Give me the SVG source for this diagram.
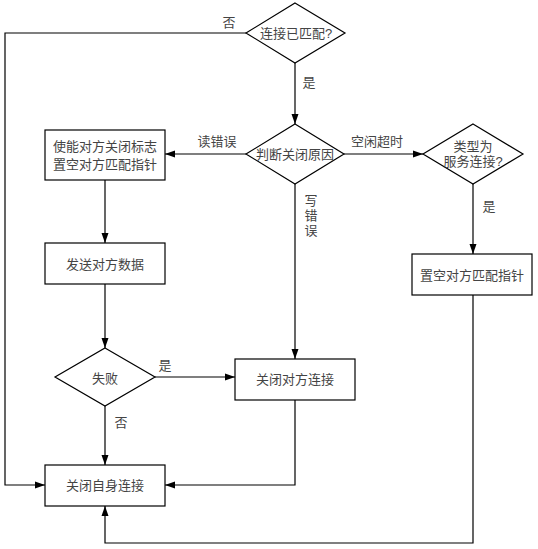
<svg xmlns="http://www.w3.org/2000/svg" width="538" height="549" viewBox="0 0 538 549">
<style>
.shape{fill:#fff;stroke:#000;stroke-width:1.2}
.line{fill:none;stroke:#000;stroke-width:1.2}
text{font-family:"Liberation Sans","Noto Sans CJK SC",sans-serif;font-size:13px;fill:#444;text-anchor:middle;dominant-baseline:central}
</style>
<defs>
<marker id="arr" markerUnits="userSpaceOnUse" markerWidth="10" markerHeight="8" refX="10" refY="4" orient="auto">
<path d="M0,0.5 L10,4 L0,7.5 z" fill="#000"/>
</marker>
</defs>
<rect width="538" height="549" fill="#fff"/>
<g id="connectors">
<path class="line" d="M295,63 V124" marker-end="url(#arr)"/>
<path class="line" d="M246,33 H5 V485 H45" marker-end="url(#arr)"/>
<path class="line" d="M246,154 H165" marker-end="url(#arr)"/>
<path class="line" d="M344,154 H423" marker-end="url(#arr)"/>
<path class="line" d="M295,184 V359" marker-end="url(#arr)"/>
<path class="line" d="M473,184 V254" marker-end="url(#arr)"/>
<path class="line" d="M105,180 V243" marker-end="url(#arr)"/>
<path class="line" d="M105,284 V348" marker-end="url(#arr)"/>
<path class="line" d="M155,377 H235" marker-end="url(#arr)"/>
<path class="line" d="M105,406 V465" marker-end="url(#arr)"/>
<path class="line" d="M295,400 V485 H165" marker-end="url(#arr)"/>
<path class="line" d="M473,295 V543 H105 V506" marker-end="url(#arr)"/>
<text x="229" y="22">否</text>
<text x="309" y="82">是</text>
<text x="217" y="141">读错误</text>
<text x="377" y="141">空闲超时</text>
<text x="311" y="200">写</text>
<text x="311" y="215">错</text>
<text x="311" y="230">误</text>
<text x="489" y="206">是</text>
<text x="165" y="365">是</text>
<text x="121" y="422">否</text>
</g>
<g id="d1"><polygon class="shape" points="295,3 345,33 295,63 246,33"/><text x="296" y="33">连接已匹配?</text></g>
<g id="d2"><polygon class="shape" points="295,124 344,154 295,184 246,154"/><text x="295" y="154">判断关闭原因</text></g>
<g id="d3"><polygon class="shape" points="473,124 523,154 473,184 423,154"/><text x="473" y="146">类型为</text><text x="473" y="161">服务连接?</text></g>
<g id="b1"><rect class="shape" x="45" y="130" width="120" height="50"/><text x="105" y="146">使能对方关闭标志</text><text x="105" y="164">置空对方匹配指针</text></g>
<g id="b2"><rect class="shape" x="45" y="243" width="120" height="41"/><text x="105" y="264">发送对方数据</text></g>
<g id="b3"><rect class="shape" x="412" y="254" width="120" height="41"/><text x="472" y="275">置空对方匹配指针</text></g>
<g id="d4"><polygon class="shape" points="105,348 155,377 105,406 55,377"/><text x="105" y="378">失败</text></g>
<g id="b4"><rect class="shape" x="235" y="359" width="120" height="41"/><text x="295" y="379">关闭对方连接</text></g>
<g id="b5"><rect class="shape" x="45" y="465" width="120" height="41"/><text x="105" y="485">关闭自身连接</text></g>
</svg>
